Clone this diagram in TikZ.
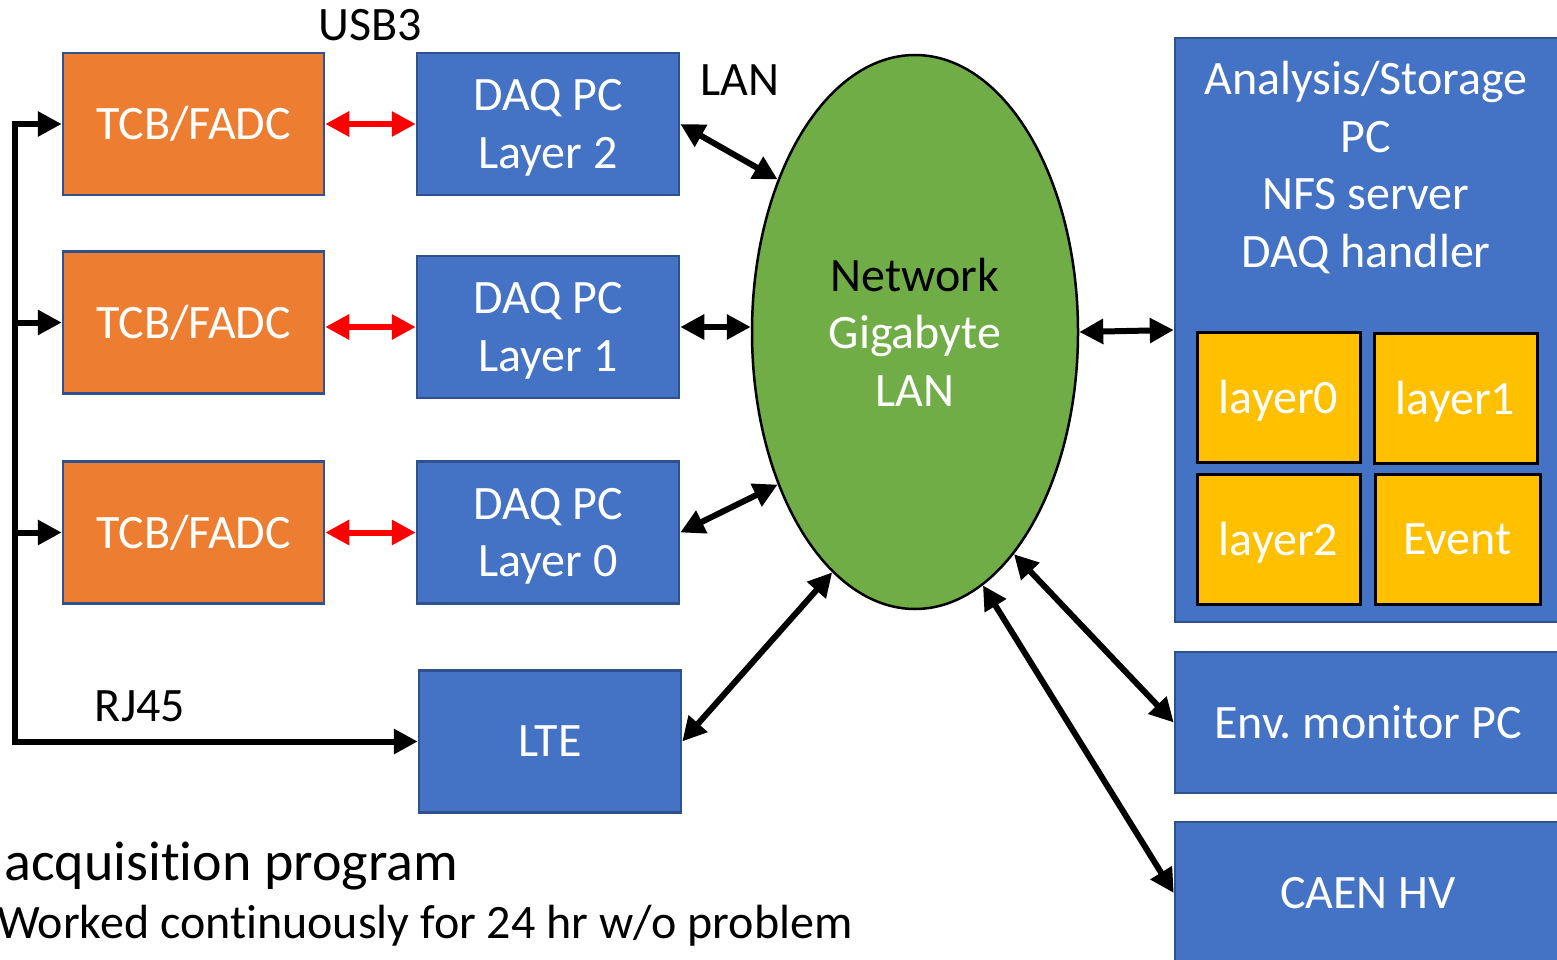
\documentclass[tikz,border=0pt]{standalone}
\usepackage{fontspec}
\setmainfont[Ligatures=NoCommon]{Carlito}
\usetikzlibrary{arrows.meta,positioning,shapes.geometric}
\definecolor{tcborange}{HTML}{ED7D31}
\definecolor{pcblue}{HTML}{4472C4}
\definecolor{edgeblue}{HTML}{2F528F}
\definecolor{langreen}{HTML}{70AD47}
\definecolor{binyellow}{HTML}{FFC000}
\newcommand{\bigfont}{\fontsize{48}{57.5}\selectfont}
\newcommand{\hugefont}{\fontsize{56}{66}\selectfont}
\tikzset{
  tcbbox/.style = {draw=edgeblue, line width=2.5pt, fill=tcborange, text=white,
                   minimum width=261pt, minimum height=142pt, inner sep=0pt, font=\bigfont},
  pcbox/.style  = {draw=edgeblue, line width=2.5pt, fill=pcblue, text=white,
                   align=center, inner sep=0pt, font=\bigfont},
  binbox/.style = {draw=black, line width=3pt, fill=binyellow, text=white, text depth=0pt,
                   minimum height=130pt, inner sep=0pt, font=\bigfont},
  tag/.style    = {text=black, inner sep=0pt, font=\bigfont},
  link/.style   = {{Triangle[length=24pt,width=24pt]}-{Triangle[length=24pt,width=24pt]}, line width=6pt},
  usb/.style    = {link, draw=red},
  feed/.style   = {-{Triangle[length=24pt,width=24pt]}, line width=6pt},
}

\begin{document}
\begin{tikzpicture}[x=1pt,y=-1pt]
    \useasboundingbox (0,0) rectangle (1557,960);
    % front end
    \node[tcbbox] (tcb2) at (193.5,124) {TCB/FADC};
    \node[tcbbox] (tcb1) at (193.5,322.5) {TCB/FADC};
    \node[tcbbox] (tcb0) at (193.5,532.5) {TCB/FADC};
    \node[pcbox,minimum width=262pt,minimum height=142pt,text depth=0pt] (daq2) at (548,124) {DAQ PC\\Layer 2};
    \node[pcbox,minimum width=262pt,minimum height=142pt,text depth=0pt] (daq1) at (548,327) {DAQ PC\\Layer 1};
    \node[pcbox,minimum width=262pt,minimum height=142pt,text depth=0pt] (daq0) at (548,532.5) {DAQ PC\\Layer 0};
    \node[pcbox,minimum width=262pt,minimum height=142pt] (lte) at (550,741.5) {LTE};
    % network
    \node[ellipse,draw=black,line width=2.5pt,fill=langreen,minimum width=326pt,minimum height=554pt,
          inner sep=0pt,align=center,text=white,font=\bigfont] (net) at (915,332)
          {\textcolor{black}{Network}\\Gigabyte\\LAN};
    % back end
    \node[pcbox,minimum width=386pt,minimum height=584pt] (ana) at (1368,330) {};
    \node[pcbox,draw=none,fill=none,anchor=north] (anatxt) at (1366,60)
          {Analysis/Storage\\PC\\NFS server\\DAQ handler};
    \node[binbox,minimum width=163pt] (bin0) at (1278.5,397) {layer0};
    \node[binbox,minimum width=163pt] (bin1) at (1455.5,398) {layer1};
    \node[binbox,minimum width=163pt] (bin2) at (1278.5,539) {layer2};
    \node[binbox,minimum width=165pt] (binev) at (1457.5,539) {Event};
    \node[pcbox,minimum width=386pt,minimum height=141pt] (env) at (1368,722.5) {Env.\ monitor PC};
    \node[pcbox,minimum width=386pt,minimum height=142pt] (caen) at (1368,893) {CAEN HV};
    % labels
    \node[tag] (usblab) at (370,25) {USB3};
    \node[tag] (lanlab) at (740,80) {LAN};
    \node[tag] (rjlab) at (140,706) {RJ45};
    \node[tag,anchor=west,font=\hugefont] (prog) at (4,866) {acquisition program};
    \node[tag,anchor=west] (worked) at (-3,926) {Worked continuously for 24 hr w/o problem};
    % connections
    \coordinate (trunk) at (15,0);
    \draw[usb] (tcb2.east) -- (daq2.west);
    \draw[usb] (daq1.west -| tcb1.east) -- (daq1.west);
    \draw[usb] (tcb0.east) -- (daq0.west);
    \draw[link] (daq2.east) -- (net.132);
    \draw[link] (daq1.east) -- (daq1.east -| net.west);
    \draw[link] (daq0.east) -- (net.228);
    \draw[link] (lte.east) -- (net.251);
    \draw[link] (net.east) -- (ana.west);
    \draw[link] (net.294) -- (env.west);
    \draw[link] (net.285) -- (caen.west);
    \draw[link] (tcb2.west) -| (trunk |- lte.west) -- (lte.west);
    \draw[feed] (trunk |- tcb1.west) -- (tcb1.west);
    \draw[feed] (trunk |- tcb0.west) -- (tcb0.west);
\end{tikzpicture}
\end{document}
